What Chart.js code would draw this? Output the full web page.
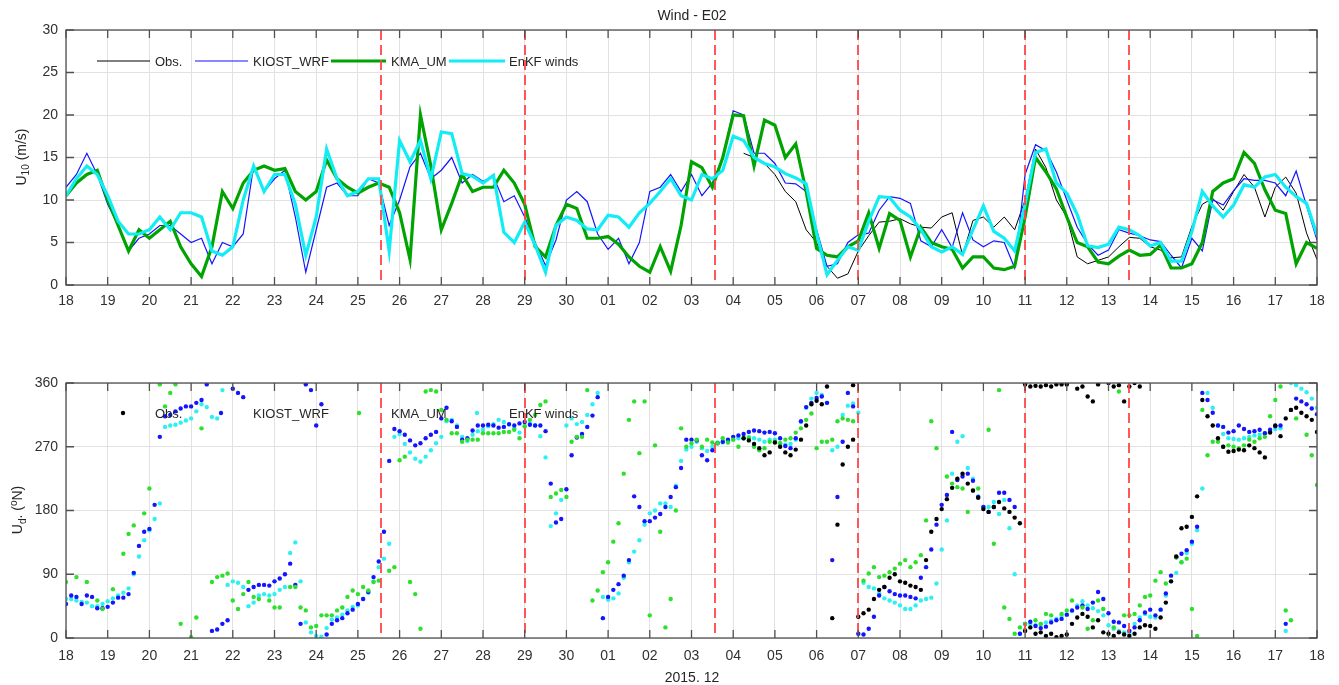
<!DOCTYPE html>
<html>
<head>
<meta charset="utf-8">
<title>Wind - E02</title>
<script src="https://cdn.jsdelivr.net/npm/chart.js@4.4.0/dist/chart.umd.min.js"></script>
<style>
  html, body { margin: 0; padding: 0; background: #fff; }
  body { width: 1339px; height: 685px; position: relative; overflow: hidden;
         font-family: "Liberation Sans", Arial, Helvetica, sans-serif; color: #262626; }
  canvas { position: absolute; left: 0; }
  #speed { top: 0; }
  #direction { top: 350px; }
  .lbl { position: absolute; font-size: 14px; white-space: nowrap; transform: translate(-50%, -50%); }
  .ylab { transform: translate(-50%, -50%) rotate(-90deg); }
  sub, sup { font-size: 10px; }
</style>
</head>
<body>
<canvas id="speed" width="1339" height="320"></canvas>
<canvas id="direction" width="1339" height="335"></canvas>
<div class="lbl" style="left:692px; top:15px">Wind - E02</div>
<div class="lbl ylab" style="left:22px; top:157px">U<sub>10</sub> (m/s)</div>
<div class="lbl ylab" style="left:18px; top:510px">U<sub>d</sub>. (<sup>o</sup>N)</div>
<div class="lbl" style="left:692px; top:677px">2015. 12</div>
<script>
(function () {
    "use strict";

    // x axis: days since 18 Nov 2015 00:00
    var dayLabels = ['18', '19', '20', '21', '22', '23', '24', '25', '26', '27', '28', '29', '30',
        '01', '02', '03', '04', '05', '06', '07', '08', '09', '10', '11', '12', '13', '14', '15',
        '16', '17', '18'];
    // assimilation cycle starts
    var cycleDays = [7.56, 11, 15.56, 19, 23, 25.5];

    var gap = function (n) { return Array(n).fill(null); };

    // 10 m wind speed (m/s), every 6 h
    var spdObs = gap(65).concat([
        15.5, 15, 14.3,
        13, 11, 9.8, 6.5,   5, 2.2, 0.8, 1.3,   4, 5.8, 7.4, 7.5,   7.8, 7.2, 6.8, 6.7,
        8, 8.5, 3.5, 7.6,   8, 6.8, 8, 6.5,     10, 16, 13.8, 10,   8, 3.3, 2.5, 2.9,
        3.3, 4.5, 5.6, 5.5, 4.5, 4.1, 3.2, 3.3, 6.9, 9.5, 10.2, 8.8, 11, 13, 11.5, 8,
        11.5, 12.7, 10.8, 6.1, 3]);
    var spdWrf = [
        11.5, 13, 15.5, 13,  9.5, 7, 4, 5.5,     6, 7, 7, 6,          5, 5.5, 2.5, 5,
        4.5, 6, 14, 11,      12.5, 13.5, 8, 1.5, 6.5, 11.5, 12, 10.5, 10.5, 12.5, 12, 7,
        10, 13.9, 15.5, 12.5, 13.5, 15, 12, 13,  12.2, 12.8, 9.8, 10.5, 8, 5, 2.3, 5.3,
        10, 11, 9.8, 6,      4.2, 5.5, 2.5, 5,   11, 11.5, 13, 11,    13, 10.5, 12, 15,
        20.5, 20, 15.5, 15.5, 14.3, 12, 11.9, 11, 6.5, 2.2, 2.5, 5,   5.9, 6.1, 8.8, 10.4,
        10.2, 9.6, 5.2, 4.5, 6.5, 4.4, 8.5, 5.3, 4.5, 5.2, 5, 2,      13, 16.5, 15.8, 13.3,
        10, 6.8, 4.8, 3.5,   4.1, 6.5, 6.1, 5.8, 5.3, 5.1, 3.5, 2,    5.5, 4, 10, 9.4,
        11.1, 12.5, 12.3, 12.3, 12, 10.5, 13.4, 9.3, 5.3];
    var spdUm = [
        10.5, 12, 13, 13.5,  10, 7, 4, 6.5,      5.5, 6.5, 7.5, 4.5,  2.5, 1, 4.5, 11,
        9, 12, 13.5, 14,     13.5, 13.7, 11, 10, 11, 14.7, 12.5, 11.5, 10.8, 11.5, 12, 11.5,
        8.5, 3, 20, 14,      6.5, 9.6, 13, 11,   11.5, 11.5, 13.5, 12, 9.5, 4.5, 3.3, 7,
        9.5, 9, 5.5, 5.5,    5.7, 4.8, 3.3, 2.2, 1.5, 4.5, 1.6, 7,    14.5, 13.8, 11.5, 15,
        20, 19.9, 14, 19.4,  18.8, 15, 16.6, 11, 4.3, 3.5, 3.3, 4.5,  5.2, 8.5, 4.3, 8.4,
        7.6, 3.3, 6.8, 5,    4.5, 4.2, 2, 3.3,   3.3, 2, 1.8, 2.2,    8, 15, 13.3, 11.3,
        8, 5, 4.5, 2.7,      2.5, 3.4, 4.1, 3.5, 3.6, 4.7, 2, 2,      2.5, 5, 11, 12,
        12.5, 15.6, 14.3, 11.2, 8.8, 8.4, 2.5, 5, 4.3];
    var spdEnkf = [
        10.5, 12.5, 14, 13,  10.5, 7.5, 6, 6,    6.5, 8, 6.5, 8.5,    8.5, 8, 4, 3.5,
        4.5, 10, 14, 11,     13, 13, 9.5, 3.5,   8, 16, 12.5, 10.5,   11, 12.5, 12.5, 4,
        17, 14.5, 17, 12.5,  18, 17.8, 13.1, 12.8, 12, 12.9, 6.2, 5,  7.4, 4.7, 1.5, 7,
        8, 7.6, 6.6, 6.5,    8.2, 8, 6.8, 8.5,   9.6, 11, 12.5, 10.5, 10, 13, 12.5, 13.5,
        17.5, 17, 15, 14.3,  13.9, 13.1, 12.6, 11.9, 6.1, 1.2, 2.9, 4.5, 4.1, 7.5, 10.4, 10.3,
        8.8, 8, 6.5, 4.5,    3.9, 4.5, 3.6, 6.5, 9.3, 6.3, 5.5, 4,    9.5, 15.6, 16, 12,
        10.8, 8.3, 4.6, 4.4, 4.8, 6.8, 6.5, 5.8, 4.6, 5, 2.8, 2.8,    6.3, 11, 9.3, 8,
        9.4, 11.8, 11.5, 12.7, 13, 11.5, 10.4, 9.6, 5.9];

    // wind direction (deg from N), every 3 h
    var dirObs = gap(130).concat([
        282, 279, 274, 268, 258, 262,
        276, 270, 262, 258, 266, 280, 300, 330,
        335, 330, 355, 28, 160, 245, 270, 280,
        30, 35, 40, 55, 68, 72, 85, 90,
        80, 78, 74, 72, 68, 110, 150, 168,
        182, 196, 212, 225, 232, 218, 208, 198,
        182, 178, 185, 192, 183, 178, 170, 162,
        10, 15, 6, 8, 3, 6, 1, 3,
        5, 20, 29, 34, 30, 15, 25, 8,
        6, 3, 8, 5, 3, 6, 15, 18,
        17, 13, 29, 50, 80, 115, 155, 157,
        171, 200, 336, 313, 300, 282, 270, 263,
        264, 266, 265, 272, 268, 262, 255, 290,
        300, 285, 310, 322, 325, 318, 313, 308,
        291]);
    // observed directions that wrapped past north at the same hours
    var dirObsWrapIdx = [151, 184, 185, 186, 187, 188, 189, 190, 191, 192, 194,
        195, 196, 197, 198, 200, 201, 202, 203, 204, 205, 206];
    var dirObsWrapVal = [357, 358, 355, 356, 355, 357, 355, 358, 358, 358, 352,
        355, 341, 334, 358, 360, 355, 357, 334, 355, 360, 355];
    var dirWrf = [
        48, 60, 58, 48, 60, 58, 42, 42,
        44, 50, 57, 57, 62, 92, 130, 150,
        154, 188, 284, 313, 315, 320, 324, 327,
        327, 332, 336, 358, 10, 12, 20, 25,
        352, 346, 340, 68, 72, 75, 75, 74,
        80, 84, 90, 105, 75, 20, 358, 350,
        300, 330, 5, 20, 25, 28, 35, 40,
        48, 55, 65, 86, 108, 150, 250, 295,
        292, 287, 279, 272, 275, 282, 287, 291,
        310, 325, 306, 298, 280, 282, 293, 300,
        300, 301, 300, 297, 298, 302, 300, 303,
        305, 301, 300, 300, 292, 218, 163, 168,
        210, 258, 283, 288, 298, 314, 340, 28,
        58, 68, 76, 88, 110, 200, 185, 165,
        165, 170, 175, 185, 199, 213, 240, 280,
        280, 279, 258, 251, 265, 275, 277, 280,
        284, 286, 288, 291, 293, 292, 290, 291,
        289, 282, 271, 268, 282, 306, 326, 332,
        339, 341, 332, 110, 199, 277, 346, 327,
        6, 5, 13, 30, 60, 72, 66, 62,
        60, 60, 58, 56, 85, 100, 125, 160,
        188, 202, 291, 223, 228, 232, 222, 199,
        185, 178, 185, 205, 205, 195, 185, 6,
        20, 23, 17, 14, 16, 22, 25, 27,
        33, 39, 43, 46, 41, 50, 65, 55,
        35, 23, 22, 17, 10, 15, 25, 36,
        40, 32, 40, 63, 88, 114, 119, 124,
        136, 157, 346, 336, 318, 300, 298, 290,
        292, 300, 295, 291, 292, 294, 289, 294,
        299, 300, 20, 322, 338, 334, 330, 324,
        316];
    var dirUm = [
        79, null, 86, null, 79, null, 53, 41,
        null, 69, null, 119, 147, 159, null, 176,
        211, null, 358, 327, 346, 358, 20, null,
        1, 29, 296, null, 79, 86, 88, 91,
        53, 41, 62, 79, 58, 55, null, 53,
        43, 43, null, 72, 72, 43, 39, 15,
        17, 32, 32, 32, 39, 43, 58, 67,
        62, 72, 67, 79, 81, null, 95, 100,
        251, 256, 79, 62, 13, 348, 350, 348,
        322, 308, 289, 289, 277, 280, 280, 280,
        289, 289, 289, 289, 291, 291, 294, 282,
        299, 308, 315, 329, 334, 199, 204, 209,
        199, 277, 284, 284, 350, 53, 67, 93,
        107, 136, 162, 232, 308, 334, 261, 334,
        32, 272, 150, 15, 55, 180, 296, 270,
        275, 280, 270, 280, 276, 275, 282, 276,
        280, 270, 282, 282, 270, 265, 268, 277,
        277, 275, 280, 282, 290, 296, 308, 317,
        268, 277, 277, 280, 306, 310, 308, 306,
        null, 81, 91, 100, 86, 88, 93, 98,
        105, 110, 100, 107, 117, 166, 306, 268,
        null, 228, 218, 213, 211, 178, 209, 211,
        null, 294, 133, 350, 43, 27, 6, 15,
        20, null, 25, 20, 34, 32, null, 34,
        39, 53, null, 43, 13, 25, 53, 41,
        null, 15, 348, 32, 32, 34, 46, 58,
        60, 81, 93, 77, null, 114, 107, 112,
        41, 3, 322, 258, 277, 277, 270, 272,
        270, 268, 272, 280, 277, 282, 284, 313,
        336, 355, 39, 25, 310, null, 287, 258,
        216];
    var dirEnkf = [
        55, 55, 53, 51, 50, 45, 45, 48,
        52, 56, 60, 64, 70, 90, 115, 138,
        152, 168, 190, 298, 300, 301, 304, 307,
        310, 320, 330, 326, 312, 310, 350, 75,
        80, 78, 72, 45, 50, 60, 62, 60,
        62, 68, 72, 120, 135, 80, 22, 8,
        3, 2, 14, 26, 29, 33, 39, 44,
        46, 55, 64, 80, 100, 112, 133, 284,
        288, 274, 262, 253, 249, 256, 265, 275,
        284, 306, 308, 300, 284, 278, 287, 292,
        294, 299, 302, 308, 305, 301, 296, 290,
        299, 303, 300, 285, 255, 158, 176, 195,
        300, 310, 302, 305, 315, 330, 346, 58,
        54, 56, 63, 85, 107, 122, 138, 160,
        176, 180, 190, 190, 185, 215, 250, 266,
        270, 277, 268, 264, 270, 276, 276, 279,
        280, 282, 282, 284, 282, 280, 277, 280,
        280, 275, 273, 274, 280, 305, 325, 338,
        346, 343, 332, 265, 270, 315, 328, 331,
        318, 78, 72, 70, 63, 56, 53, 50,
        46, 41, 41, 46, 53, 55, 57, 77,
        125, 166, 232, 277, 285, 240, 225, 200,
        185, 185, 192, 175, 195, 155, 90, 6,
        12, 20, 18, 19, 22, 24, 27, 31,
        33, 38, 46, 52, 46, 42, 38, 32,
        18, 13, 10, 8, 6, 20, 29, 34,
        30, 29, 40, 60, 80, 92, 107, 120,
        133, 152, 211, 346, 325, 300, 288, 282,
        281, 280, 282, 284, 286, 287, 289, 292,
        295, 296, 10, 360, 357, 352, 347, 338,
        325];

    var colObs = '#000000', colWrf = '#1414ff', colUm = '#00a400', colEnkf = '#12ecf4';
    var dotUm = '#2ee02e', dotEnkf = '#2ef0f0';

    var toPoints = function (vals, perDay) {
        return vals.map(function (v, i) { return { x: i / perDay, y: v }; });
    };

    Chart.defaults.font.family = '"Liberation Sans", Arial, Helvetica, sans-serif';
    Chart.defaults.font.size = 14;
    Chart.defaults.color = '#303030';

    // box, inward ticks, legend and the dashed cycle markers
    var framePlugin = {
        id: 'frame',
        afterDatasetsDraw: function (chart, args, o) {
            var ctx = chart.ctx, a = chart.chartArea, x = chart.scales.x, y = chart.scales.y;
            ctx.save();

            ctx.font = '13px "Liberation Sans", Arial, sans-serif';
            ctx.textBaseline = 'middle';
            o.legend.forEach(function (it) {
                if (o.markers) {
                    ctx.fillStyle = it.color;
                    ctx.beginPath();
                    ctx.arc(it.x0, o.legendY, 2.2, 0, 2 * Math.PI);
                    ctx.fill();
                } else {
                    ctx.strokeStyle = it.color;
                    ctx.lineWidth = it.width;
                    ctx.beginPath();
                    ctx.moveTo(it.x0, o.legendY);
                    ctx.lineTo(it.x1, o.legendY);
                    ctx.stroke();
                }
                ctx.fillStyle = '#262626';
                ctx.fillText(it.text, it.tx, o.legendY + 1);
            });

            ctx.strokeStyle = 'rgba(255,70,70,0.9)';
            ctx.lineWidth = 2;
            ctx.setLineDash([10, 5]);
            cycleDays.forEach(function (d) {
                var px = Math.round(x.getPixelForValue(d));
                ctx.beginPath();
                ctx.moveTo(px, a.top);
                ctx.lineTo(px, a.bottom);
                ctx.stroke();
            });
            ctx.setLineDash([]);

            ctx.strokeStyle = '#505050';
            ctx.lineWidth = 1.3;
            ctx.strokeRect(a.left, a.top, a.right - a.left, a.bottom - a.top);
            ctx.beginPath();
            x.ticks.forEach(function (t) {
                var px = x.getPixelForValue(t.value);
                ctx.moveTo(px, a.top); ctx.lineTo(px, a.top + 8);
                ctx.moveTo(px, a.bottom); ctx.lineTo(px, a.bottom - 8);
            });
            y.ticks.forEach(function (t) {
                var py = y.getPixelForValue(t.value);
                ctx.moveTo(a.left, py); ctx.lineTo(a.left + 8, py);
                ctx.moveTo(a.right, py); ctx.lineTo(a.right - 8, py);
            });
            ctx.stroke();
            ctx.restore();
        }
    };

    var scales = function (yMax, yStep, xPad, xHeight) {
        return {
            x: {
                type: 'linear', min: 0, max: 30,
                afterFit: function (s) { s.height = xHeight; },
                grid: { color: '#e2e2e2', drawTicks: false },
                border: { display: false },
                ticks: {
                    stepSize: 1, autoSkip: false, maxRotation: 0, padding: xPad,
                    callback: function (v) { return dayLabels[v]; }
                }
            },
            y: {
                type: 'linear', min: 0, max: yMax,
                afterFit: function (s) { s.width = 66; },
                grid: { color: '#e2e2e2', drawTicks: false },
                border: { display: false },
                ticks: { stepSize: yStep, padding: 8 }
            }
        };
    };

    var legendItems = [
        { text: 'Obs.', color: colObs, width: 1, x0: 97, x1: 150, tx: 155 },
        { text: 'KIOST_WRF', color: colWrf, width: 1.2, x0: 195, x1: 248, tx: 253 },
        { text: 'KMA_UM', color: colUm, width: 3.2, x0: 331, x1: 386, tx: 391 },
        { text: 'EnKF winds', color: colEnkf, width: 3.2, x0: 449, x1: 505, tx: 509 }
    ];

    // Wind speed
    new Chart(document.getElementById('speed'), {
        type: 'line',
        data: {
            datasets: [
                { label: 'Obs.', data: toPoints(spdObs, 4), borderColor: colObs, borderWidth: 1, order: 3 },
                { label: 'KIOST_WRF', data: toPoints(spdWrf, 4), borderColor: colWrf, borderWidth: 1.2, order: 2 },
                { label: 'KMA_UM', data: toPoints(spdUm, 4), borderColor: colUm, borderWidth: 3.2, order: 1 },
                { label: 'EnKF winds', data: toPoints(spdEnkf, 4), borderColor: colEnkf, borderWidth: 3.2, order: 0 }
            ]
        },
        options: {
            responsive: false, animation: false, devicePixelRatio: 1,
            elements: { point: { radius: 0 }, line: { tension: 0 } },
            layout: { padding: { left: 0, right: 22, top: 30, bottom: 0 } },
            scales: scales(30, 5, 8, 35),
            plugins: {
                legend: { display: false }, tooltip: { enabled: false },
                frame: { legend: legendItems, legendY: 61, markers: false }
            }
        },
        plugins: [framePlugin]
    });

    // Wind direction
    var wrapPoints = dirObsWrapIdx.map(function (k, i) { return { x: k / 8, y: dirObsWrapVal[i] }; });
    var dots = function (label, pts, color, order) {
        return { label: label, data: pts, showLine: false, pointRadius: 2.2, pointBorderWidth: 0,
                 pointBackgroundColor: color, borderColor: color, order: order };
    };

    new Chart(document.getElementById('direction'), {
        type: 'scatter',
        data: {
            datasets: [
                dots('Obs.', toPoints(dirObs, 8).concat(wrapPoints), colObs, 0),
                dots('KMA_UM', toPoints(dirUm, 8), dotUm, 1),
                dots('KIOST_WRF', toPoints(dirWrf, 8), colWrf, 2),
                dots('EnKF winds', toPoints(dirEnkf, 8), dotEnkf, 3)
            ]
        },
        options: {
            responsive: false, animation: false, devicePixelRatio: 1,
            layout: { padding: { left: 0, right: 22, top: 33, bottom: 0 } },
            scales: scales(360, 90, 10, 47),
            plugins: {
                legend: { display: false }, tooltip: { enabled: false },
                frame: {
                    legend: [
                        { text: 'Obs.', color: colObs, x0: 123, tx: 155 },
                        { text: 'KIOST_WRF', color: colWrf, x0: 221, tx: 253 },
                        { text: 'KMA_UM', color: dotUm, x0: 359, tx: 391 },
                        { text: 'EnKF winds', color: dotEnkf, x0: 477, tx: 509 }
                    ],
                    legendY: 63, markers: true
                }
            }
        },
        plugins: [framePlugin]
    });
})();
</script>
</body>
</html>
